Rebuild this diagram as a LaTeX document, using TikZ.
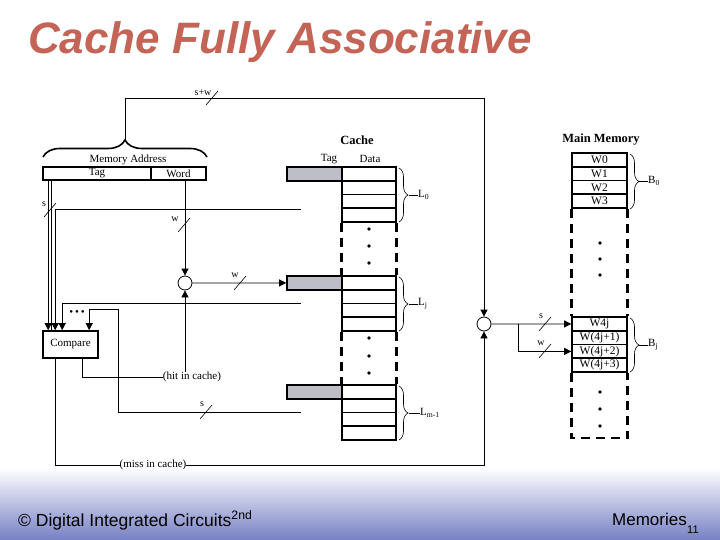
\documentclass[tikz,border=0pt]{standalone}
\usepackage{fontspec}
\setmainfont{Liberation Serif}
\newfontfamily\headfont{Liberation Sans}
\usetikzlibrary{arrows.meta,positioning,decorations.pathreplacing,calc}
\definecolor{titlered}{RGB}{196,100,86}
\definecolor{tagfill}{RGB}{190,190,198}
\definecolor{footblue}{RGB}{118,128,196}

\begin{document}
\begin{tikzpicture}[
    x=1pt, y=-1pt,
    wire/.style={line width=0.8pt},
    arr/.style={wire, -{Triangle[length=7pt,width=7pt]}},
    busmark/.style={line width=0.6pt},
    buslab/.style={font=\fontsize{10}{10}\selectfont, inner sep=0.5pt},
    lbl/.style={font=\fontsize{11}{11}\selectfont, inner sep=0pt},
    head/.style={font=\fontsize{12.5}{12.5}\selectfont\bfseries, inner sep=0pt},
    field/.style={rectangle, draw, line width=1.6pt, minimum height=13pt, inner sep=0pt, font=\fontsize{11}{11}\selectfont},
    crow/.style={rectangle, draw, line width=1.6pt, minimum width=54pt, minimum height=13.75pt, inner sep=0pt},
    ctag/.style={crow, fill=tagfill, minimum width=55pt},
    mrow/.style={crow, minimum width=55pt, font=\fontsize{11.5}{11.5}\selectfont},
    colside/.style={line width=2.8pt, dash pattern=on 9pt off 6pt},
    junc/.style={circle, draw, line width=0.8pt, fill=white, minimum size=14pt, inner sep=0pt},
    bigbrace/.style={decorate, decoration={brace, amplitude=17pt}, line width=1.6pt},
    grpbrace/.style={decorate, decoration={brace, amplitude=9pt}, line width=0.6pt},
    grplab/.style={font=\fontsize{11}{11}\selectfont, inner sep=0pt, anchor=west},
    slidetitle/.style={font=\headfont\bfseries\itshape\fontsize{44}{44}\selectfont, anchor=base west, inner sep=0pt},
    foot/.style={font=\headfont\fontsize{17.5}{17.5}\selectfont, anchor=base west, inner sep=0pt}
]
\useasboundingbox (0,0) rectangle (720,540);
\fill[white] (0,0) rectangle (720,540);
\shade[top color=white, bottom color=footblue] (0,468) rectangle (720,540);

% ---- title and footer ----
\node[slidetitle, text=titlered] (title) at (28,54) {Cache Fully Associative};
\node[foot] (foot-l) at (18,526) {© Digital Integrated Circuits\textsuperscript{2nd}};
\node[foot, font=\headfont\fontsize{17}{17}\selectfont] (foot-r) at (612,525) {Memories};
\node[foot, font=\headfont\fontsize{11}{11}\selectfont] (page) at (687,533) {11};

% ---- memory address ----
\node[field, minimum width=108pt] (tag) at (97,173.5) {Tag};
\node[field, minimum width=55pt] (word) at (178.5,173.5) {Word};
\node[lbl] (maddr) at (128,160) {Memory Address};
\coordinate (brace-l) at (43,157);
\coordinate (brace-r) at (207,157);
\coordinate (addr-in) at (125,140);
\draw[bigbrace] (brace-l) -- (brace-r);

% ---- compare and junctions ----
\node[field, minimum width=55pt, minimum height=27pt] (cmp) at (70.5,344.5) {Compare};
\node[font=\fontsize{11}{11}\selectfont, inner sep=0pt] (cmp-dots) at (77,313) {\textbullet\,\textbullet\,\textbullet};
\node[junc] (jl) at (185,283) {};
\node[junc] (jr) at (484,324) {};
\node[lbl] (hit) at (192,377) {(hit in cache)};
\node[lbl] (miss) at (153,465) {(miss in cache)};

% ---- cache ----
\node[head] (cache-h) at (357,140) {Cache};
\node[lbl] (tag-h) at (329,159) {Tag};
\node[lbl] (data-h) at (370,159) {Data};

\node[ctag] (t0) at (314.5,173.9) {};
\node[crow] (l0a) at (369,173.9) {};
\node[crow] (l0b) at (369,187.6) {};
\node[crow] (l0c) at (369,201.4) {};
\node[crow] (l0d) at (369,215.1) {};

\node[ctag] (tj) at (314.5,282.9) {};
\node[crow] (lja) at (369,282.9) {};
\node[crow] (ljb) at (369,296.6) {};
\node[crow] (ljc) at (369,310.4) {};
\node[crow] (ljd) at (369,324.1) {};

\node[ctag] (tm) at (314.5,391.9) {};
\node[crow] (lma) at (369,391.9) {};
\node[crow] (lmb) at (369,405.6) {};
\node[crow] (lmc) at (369,419.4) {};
\node[crow] (lmd) at (369,433.1) {};

\draw[colside] (l0d.south west) -- (lja.north west);
\draw[colside] (l0d.south east) -- (lja.north east);
\draw[colside] (ljd.south west) -- (lma.north west);
\draw[colside] (ljd.south east) -- (lma.north east);
\fill (369,229) circle (1.8) (369,246) circle (1.8) (369,263) circle (1.8);
\fill (369,338) circle (1.8) (369,356) circle (1.8) (369,373) circle (1.8);

\draw[grpbrace] (399,168) -- (399,222);
\node[grplab] (l0-lab) at (418,195) {L\textsubscript{0}};
\draw[busmark] (l0-lab.west) -- ++(-9,0);
\draw[grpbrace] (399,277) -- (399,331);
\node[grplab] (lj-lab) at (418,304) {L\textsubscript{j}};
\draw[busmark] (lj-lab.west) -- ++(-9,0);
\draw[grpbrace] (399,386) -- (399,440);
\node[grplab] (lm-lab) at (420,413) {L\textsubscript{m-1}};
\draw[busmark] (lm-lab.west) -- ++(-11,0);

% ---- main memory ----
\node[head] (mem-h) at (601,140) {Main Memory};
\node[mrow] (m0) at (599.5,159.9) {W0};
\node[mrow] (m1) at (599.5,173.6) {W1};
\node[mrow] (m2) at (599.5,187.4) {W2};
\node[mrow] (m3) at (599.5,201.1) {W3};
\node[mrow] (mja) at (599.5,323.9) {W4j};
\node[mrow] (mjb) at (599.5,337.6) {W(4j+1)};
\node[mrow] (mjc) at (599.5,351.4) {W(4j+2)};
\node[mrow] (mjd) at (599.5,365.1) {W(4j+3)};
\coordinate (mem-bot) at (599.5,438);

\draw[colside] (m3.south west) -- (mja.north west);
\draw[colside] (m3.south east) -- (mja.north east);
\draw[colside] (mjd.south west) |- (mem-bot) -| (mjd.south east);
\fill (600,243) circle (1.8) (600,259) circle (1.8) (600,275) circle (1.8);
\fill (600,392) circle (1.8) (600,409) circle (1.8) (600,426) circle (1.8);

\draw[grpbrace] (630,154) -- (630,209);
\node[grplab] (b0-lab) at (648,181) {B\textsubscript{0}};
\draw[busmark] (b0-lab.west) -- ++(-9,0);
\draw[grpbrace] (630,318) -- (630,372);
\node[grplab] (bj-lab) at (648,345) {B\textsubscript{j}};
\draw[busmark] (bj-lab.west) -- ++(-9,0);

% ---- wires ----
\coordinate (top-r) at (484,98);
\draw[arr] (addr-in) |- (top-r) -- (jr);
\draw[busmark] (212,98) +(-6,7) -- +(6,-7);
\node[buslab] (sw-lab) at (203,93) {s+w};

\draw[arr] ([xshift=6pt]tag.south west) -- ([xshift=6pt]cmp.north west);
\draw[wire] ([xshift=9pt]tag.south west) -- ([xshift=9pt]cmp.north west);
\draw[busmark] (50,210) +(-6,7) -- +(6,-7);
\node[buslab] (s1-lab) at (44,204) {s};

\coordinate (l0-end) at (301,209);
\coordinate (lj-end) at (301,303);
\coordinate (lm-end) at (301,412);
\coordinate (lm-bend) at (118,309);
\draw[arr] (l0-end) -| ([xshift=13pt]cmp.north west);
\draw[arr] (lj-end) -| ([xshift=20pt]cmp.north west);
\draw[arr] (lm-end) -| (lm-bend) -| ([xshift=47pt]cmp.north west);
\draw[busmark] (206,412) +(-6,7) -- +(6,-7);
\node[buslab] (s2-lab) at (202,404) {s};

\draw[arr] (jl |- word.south) -- (jl);
\draw[busmark] (184,225) +(-6,7) -- +(6,-7);
\node[buslab] (w1-lab) at (175,219) {w};
\draw[arr] (jl) -- (tj);
\draw[busmark] (240,283) +(-6,7) -- +(6,-7);
\node[buslab] (w2-lab) at (235,275) {w};

\draw[wire] ([xshift=40pt]cmp.south west) |- (hit.west);
\draw[arr] (jl |- hit.north) -- (jl);
\draw[wire] ([xshift=13pt]cmp.south west) |- (miss.west);
\draw[arr] (miss.east) -| (jr);

\coordinate (split) at (518,324);
\draw[arr] (jr) -- (mja);
\draw[arr] (split) |- (mjc.west);
\draw[busmark] (545,324) +(-6,7) -- +(6,-7);
\node[buslab] (s3-lab) at (541,316) {s};
\draw[busmark] (545,351) +(-6,7) -- +(6,-7);
\node[buslab] (w3-lab) at (541,343) {w};

\end{tikzpicture}
\end{document}
